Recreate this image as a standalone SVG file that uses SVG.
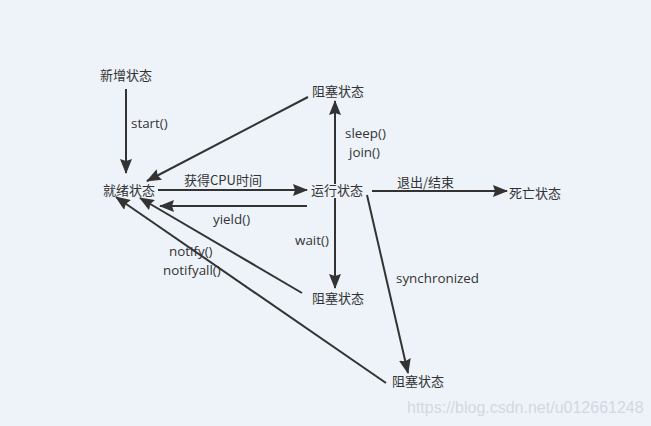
<svg xmlns="http://www.w3.org/2000/svg" width="651" height="426" viewBox="0 0 651 426">
<style>
.n{font-family:"Noto Sans CJK SC","Noto Sans",sans-serif;font-size:13px;fill:#333}
.l{font-family:"Open Sans","Noto Sans CJK SC",sans-serif;font-size:13.4px;fill:#333}
.c line{stroke:#333;stroke-width:2;marker-end:url(#a)}
</style>
<defs>
<marker id="a" markerUnits="userSpaceOnUse" markerWidth="15" markerHeight="12" refX="14" refY="6" orient="auto" viewBox="0 0 15 12">
<path d="M0,0 L15,6 L0,12 L2,6 z" fill="#333"/>
</marker>
</defs>
<rect width="651" height="426" fill="#eef3fa"/>
<g id="connectors" class="c">
<line x1="126" y1="89" x2="126" y2="173"/>
<line x1="308" y1="97" x2="147" y2="181"/>
<line x1="158" y1="190" x2="307" y2="190"/>
<line x1="307" y1="206" x2="160" y2="206"/>
<line x1="335" y1="184" x2="335" y2="101"/>
<line x1="335" y1="198" x2="335" y2="288"/>
<line x1="372" y1="191" x2="507" y2="191"/>
<line x1="367" y1="195" x2="408" y2="373"/>
<line x1="302" y1="293" x2="140" y2="198"/>
<line x1="386" y1="383" x2="116" y2="197"/>
</g>
<g id="labels">
<text class="l" x="131" y="128">start()</text>
<text class="n" x="184" y="185">获得CPU时间</text>
<text class="l" x="213" y="224">yield()</text>
<text class="l" x="345" y="138">sleep()</text>
<text class="l" x="349" y="157">join()</text>
<text class="l" x="295" y="245">wait()</text>
<text class="n" x="397" y="187">退出/结束</text>
<text class="l" x="396" y="283">synchronized</text>
<text class="l" x="169" y="256">notify()</text>
<text class="l" x="163" y="275">notifyall()</text>
</g>
<g id="n-new"><text class="n" x="100" y="80">新增状态</text></g>
<g id="n-ready"><text class="n" x="103" y="195">就绪状态</text></g>
<g id="n-run"><text class="n" x="311" y="195">运行状态</text></g>
<g id="n-block1"><text class="n" x="312" y="96">阻塞状态</text></g>
<g id="n-block2"><text class="n" x="312" y="303">阻塞状态</text></g>
<g id="n-block3"><text class="n" x="392" y="386">阻塞状态</text></g>
<g id="n-dead"><text class="n" x="509" y="198">死亡状态</text></g>
<text x="407" y="413" font-family="Liberation Sans,sans-serif" font-size="16" fill="#d3d8e0">https://blog.csdn.net/u012661248</text>
</svg>
